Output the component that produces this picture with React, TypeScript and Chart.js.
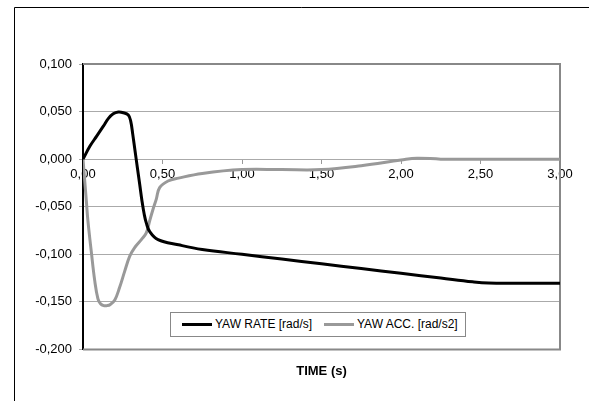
import React, { useEffect, useRef } from "react";
import { Chart, registerables } from "chart.js";

Chart.register(...registerables);

const rateTimes = [0, 0.044, 0.086, 0.128, 0.16, 0.19, 0.222, 0.254, 0.285, 0.3, 0.313, 0.327, 0.342, 0.357, 0.371, 0.385, 0.398, 0.419, 0.472, 0.6, 0.75, 1.0, 1.25, 1.5, 1.75, 2.0, 2.25, 2.45, 2.55, 2.75, 3.0];
const yawRate = [0, 0.0137, 0.0242, 0.0347, 0.0428, 0.0477, 0.0495, 0.0488, 0.0463, 0.04, 0.026, 0.009, -0.009, -0.027, -0.044, -0.058, -0.067, -0.076, -0.0846, -0.09, -0.095, -0.1, -0.105, -0.11, -0.115, -0.12, -0.125, -0.129, -0.1303, -0.1305, -0.1305];
const accTimes = [0, 0.021, 0.031, 0.052, 0.074, 0.094, 0.11, 0.13, 0.15, 0.17, 0.2, 0.23, 0.262, 0.294, 0.325, 0.367, 0.398, 0.419, 0.44, 0.461, 0.482, 0.535, 0.6, 0.75, 1.0, 1.25, 1.5, 1.75, 2.0, 2.1, 2.25, 2.5, 3.0];
const yawAcc = [0, -0.044, -0.065, -0.097, -0.128, -0.147, -0.152, -0.154, -0.154, -0.153, -0.148, -0.135, -0.118, -0.102, -0.093, -0.0846, -0.0776, -0.065, -0.053, -0.042, -0.03, -0.023, -0.02, -0.015, -0.011, -0.011, -0.011, -0.007, -0.001, 0.001, 0, 0, 0];
const seriesNames = ["YAW RATE [rad/s]", "YAW ACC. [rad/s2]"];
const seriesColors = ["#000000", "#999999"];
const xTitle = "TIME (s)";

const FONT = "'Liberation Sans', Arial, sans-serif";

const fmt = (v: number, d: number) => {
  const n = Math.abs(v) < 1e-9 ? 0 : v;
  return n.toFixed(d).replace(".", ",");
};

const framePlugin = {
  id: "frames",
  beforeDraw(chart: any) {
    const ctx = chart.ctx;
    ctx.save();
    ctx.strokeStyle = "#000";
    ctx.lineWidth = 1;
    ctx.beginPath();
    ctx.moveTo(14.5, 401);
    ctx.lineTo(14.5, 7.5);
    ctx.lineTo(589, 7.5);
    ctx.stroke();
    ctx.restore();
  },
  beforeDatasetsDraw(chart: any) {
    const { ctx, chartArea: a } = chart;
    ctx.save();
    ctx.strokeStyle = "#888888";
    ctx.lineWidth = 2;
    ctx.beginPath();
    ctx.moveTo(a.left, a.top);
    ctx.lineTo(a.right, a.top);
    ctx.lineTo(a.right, a.bottom);
    ctx.lineTo(a.left, a.bottom);
    ctx.stroke();
    ctx.restore();
  },
};

export default function App() {
  const ref = useRef<HTMLCanvasElement>(null);
  useEffect(() => {
    if (!ref.current) return;
    const chart = new Chart(ref.current, {
      type: "line",
      data: {
        datasets: [
          {
            label: seriesNames[0],
            data: rateTimes.map((t, i) => ({ x: t, y: yawRate[i] })),
            borderColor: seriesColors[0],
            borderWidth: 3,
            pointRadius: 0,
            tension: 0.4,
          },
          {
            label: seriesNames[1],
            data: accTimes.map((t, i) => ({ x: t, y: yawAcc[i] })),
            borderColor: seriesColors[1],
            borderWidth: 3,
            pointRadius: 0,
            tension: 0.4,
          },
        ],
      },
      options: {
        animation: false,
        responsive: false,
        layout: { padding: { left: 0, top: 64, right: 29, bottom: 0 } },
        plugins: {
          legend: { display: false },
          tooltip: { enabled: false },
          title: {
            display: true,
            text: xTitle,
            position: "bottom",
            fullSize: false,
            color: "#000",
            font: { family: FONT, size: 13, weight: "bold" },
            padding: { top: 14, bottom: 22 },
          },
        },
        scales: {
          x: {
            type: "linear",
            position: { y: 0 } as any,
            min: 0,
            max: 3,
            grid: { drawOnChartArea: false, drawTicks: true, tickLength: 4, color: "#999999" },
            border: { color: "#aaaaaa", width: 1 },
            ticks: {
              stepSize: 0.5,
              padding: 3,
              color: "#000",
              font: { family: FONT, size: 13 },
              callback: (v: any) => fmt(Number(v), 2),
            },
          },
          y: {
            type: "linear",
            min: -0.2,
            max: 0.1,
            afterFit: (s: any) => {
              s.width = 83;
            },
            grid: { color: "#aaaaaa", lineWidth: 1, tickLength: 4, drawTicks: true },
            border: { color: "#000", width: 2 },
            ticks: {
              stepSize: 0.05,
              padding: 7,
              color: "#000",
              font: { family: FONT, size: 13 },
              callback: (v: any) => fmt(Number(v), 3),
            },
          },
        },
      },
      plugins: [framePlugin],
    });
    return () => chart.destroy();
  }, []);

  const legendText: React.CSSProperties = {
    position: "absolute",
    top: 0,
    lineHeight: "23px",
    fontFamily: FONT,
    fontSize: 12,
    color: "#000",
    whiteSpace: "nowrap",
  };
  const legendLine = (color: string, left: number): React.CSSProperties => ({
    position: "absolute",
    left,
    top: 10,
    width: 30,
    height: 3,
    background: color,
  });

  return (
    <div style={{ position: "fixed", left: 0, top: 0, width: 589, height: 401, background: "#fff" }}>
      <canvas ref={ref} width={589} height={401} style={{ display: "block" }} />
      <div
        style={{
          position: "absolute",
          left: 170,
          top: 312,
          width: 294,
          height: 23,
          border: "1px solid #888888",
          background: "#fff",
        }}
      >
        <div style={legendLine(seriesColors[0], 11)} />
        <div style={{ ...legendText, left: 44 }}>{seriesNames[0]}</div>
        <div style={legendLine(seriesColors[1], 153)} />
        <div style={{ ...legendText, left: 186 }}>{seriesNames[1]}</div>
      </div>
    </div>
  );
}
